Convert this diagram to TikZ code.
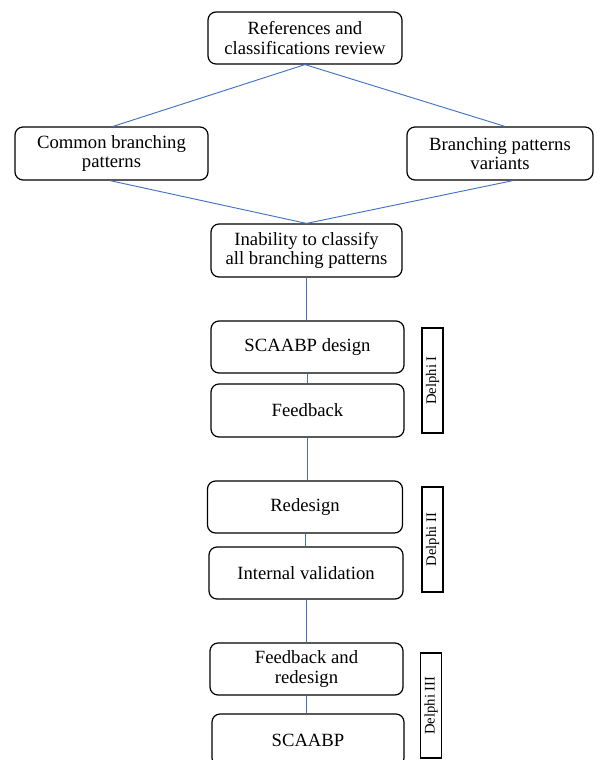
\documentclass[tikz,border=0pt]{standalone}
\usepackage{fontspec}
\setmainfont{Liberation Serif}
\usetikzlibrary{calc}
\definecolor{linkblue}{RGB}{68,114,196}
\begin{document}
\begin{tikzpicture}[x=0.75pt,y=-0.75pt,
  box/.style={draw=black, line width=0.9pt, rounded corners=6pt, align=center,
    font=\fontsize{14}{14.5}\selectfont, inner sep=0pt},
  sz/.style 2 args={minimum width=#1*0.75pt, minimum height=#2*0.75pt},
  conn/.style={draw=linkblue, line width=0.7pt},
  delphi/.style={draw=black, line width=0.8pt, inner sep=0pt, rotate=90,
    font=\fontsize{11}{13}\selectfont, minimum width=105*0.75pt, minimum height=21*0.75pt}]
\useasboundingbox (0,0) rectangle (598,760);
\clip (0,0) rectangle (598,760);
\fill[white] (0,0) rectangle (598,760);

\node[box, sz={194}{52}] (ref) at (305,38) {References and\\classifications review};
\node[box, sz={193}{53}] (com) at (111.5,153.5) {Common branching\\patterns};
\node[box, sz={186}{53}] (var) at (500,153.5) {Branching patterns\\variants};
\node[box, sz={191}{53}] (inab) at (306.5,250.5) {Inability to classify\\all branching patterns};
\node[box, sz={193}{52}] (des) at (307.5,347) {SCAABP design};
\node[box, sz={193}{53}] (fb) at (307.5,410.5) {Feedback};
\node[box, sz={195}{52}] (red) at (305,507) {Redesign};
\node[box, sz={194}{52}] (iv) at (306,573) {Internal validation};
\node[box, sz={193}{52}] (fr) at (306.5,669) {Feedback and\\redesign};
\node[box, sz={192}{52}] (sc) at (308,740) {SCAABP};

\node[delphi] (d1) at (432.5,380.5) {Delphi I};
\node[delphi] (d2) at (432.5,539.5) {Delphi II};
\node[delphi] (d3) at (431,705.5) {Delphi III};

\draw[conn] (ref.south) -- ($(com.north)+(1.5,0)$);
\draw[conn] (ref.south) -- ($(var.north)+(5,0)$);
\draw[conn] ($(com.south)+(-1.5,0)$) -- (inab.north);
\draw[conn] ($(var.south)+(13,0)$) -- (inab.north);
\draw[conn] (inab.south) -- (inab.south |- des.north);
\draw[conn] (des.south) -- (des.south |- fb.north);
\draw[conn] (fb.south) -- (fb.south |- red.north);
\draw[conn] (red.south) -- (red.south |- iv.north);
\draw[conn] (iv.south) -- (iv.south |- fr.north);
\draw[conn] (fr.south) -- (fr.south |- sc.north);
\end{tikzpicture}
\end{document}
